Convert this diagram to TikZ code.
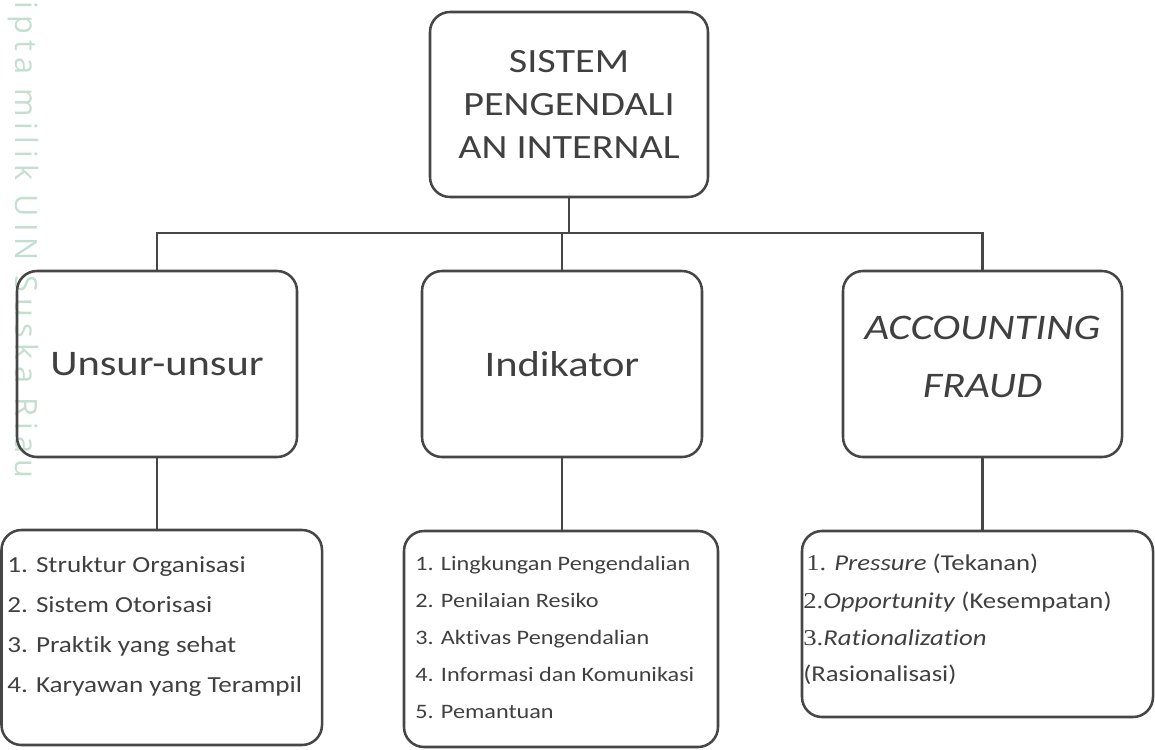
\documentclass[tikz,border=0pt]{standalone}
\usepackage{fontspec}
\setmainfont{Carlito}[FakeStretch=1.18,Ligatures=NoCommon]
\newfontfamily\tnr{Liberation Serif}[FakeStretch=1.18]
\newfontfamily\wmfont{Open Sans}[LetterSpace=20]
\definecolor{ink}{RGB}{64,64,64}
\definecolor{edge}{RGB}{70,70,70}
\definecolor{wm}{RGB}{196,222,208}
\begin{document}
\begin{tikzpicture}[x=0.75pt,y=-0.75pt,
  box/.style={draw=edge,line width=1.9pt,rounded corners=15pt,inner sep=0pt,text=ink,align=center},
  conn/.style={draw=edge,line width=1.9pt},
  item/.style={anchor=base west,inner sep=0pt,text=ink}]
\useasboundingbox (0,0) rectangle (1155,749);
\node[rotate=-90,anchor=base west,inner sep=0pt,text=wm,font=\wmfont\fontsize{23}{27}\selectfont] (wmark) at (15,1) {ipta milik UIN Suska Riau};
% boxes
\node[box,minimum width=208.5pt,minimum height=138.75pt,font=\fontsize{25.5}{32}\selectfont] (top) at (569,104.5) {SISTEM\\PENGENDALI\\AN INTERNAL};
\node[box,minimum width=210pt,minimum height=139.5pt,font=\fontsize{27}{33}\selectfont] (m1) at (157,364) {Unsur-unsur};
\node[box,minimum width=210pt,minimum height=139.5pt,font=\fontsize{27}{33}\selectfont] (m2) at (562,364) {Indikator};
\node[box,minimum width=209.25pt,minimum height=139.5pt] (m3) at (982.5,364) {};
\node[align=center,inner sep=0pt,text=ink,font=\fontsize{27}{43.5}\selectfont\itshape] (m3t) at (982.5,357) {ACCOUNTING\\FRAUD};
\node[box,minimum width=240.4pt,minimum height=161.25pt] (b1) at (161.75,637.5) {};
\node[box,minimum width=235.5pt,minimum height=162pt] (b2) at (561,639) {};
\node[box,minimum width=263.25pt,minimum height=139.5pt] (b3) at (977.5,624) {};
% connectors
\coordinate (hub) at (569,233);
\draw[conn] (top.south) -- (hub);
\draw[conn] (m1.north) -- (m1.north |- hub) -- (m3.north |- hub) -- (m3.north);
\draw[conn] (m2.north) -- (m2.north |- hub);
\draw[conn] (m1.south) -- (m1.south |- b1.north);
\draw[conn] (m2.south) -- (m2.south |- b2.north);
\draw[conn] (m3.south) -- (m3.south |- b3.north);
% items left
\begin{scope}[every node/.append style={font=\fontsize{17.25}{20}\selectfont}]
\node[item] (u1) at (7,572) {1. Struktur Organisasi};
\node[item] (u2) at (7,612) {2. Sistem Otorisasi};
\node[item] (u3) at (7,652) {3. Praktik yang sehat};
\node[item] (u4) at (7,692) {4. Karyawan yang Terampil};
\end{scope}
% items middle
\begin{scope}[every node/.append style={font=\fontsize{15.4}{18}\selectfont}]
\node[item] (i1) at (415,570) {1. Lingkungan Pengendalian};
\node[item] (i2) at (415,607) {2. Penilaian Resiko};
\node[item] (i3) at (415,644) {3. Aktivas Pengendalian};
\node[item] (i4) at (415,681) {4. Informasi dan Komunikasi};
\node[item] (i5) at (415,718) {5. Pemantuan};
\end{scope}
% items right
\begin{scope}[every node/.append style={font=\fontsize{17}{20}\selectfont}]
\node[item] (f1) at (806,570) {{\tnr 1.} \textit{Pressure} (Tekanan)};
\node[item] (f2) at (803,608) {{\tnr 2.}\textit{Opportunity} (Kesempatan)};
\node[item] (f3) at (803,645) {{\tnr 3.}\textit{Rationalization}};
\node[item] (f4) at (803,681) {(Rasionalisasi)};
\end{scope}
\end{tikzpicture}
\end{document}
